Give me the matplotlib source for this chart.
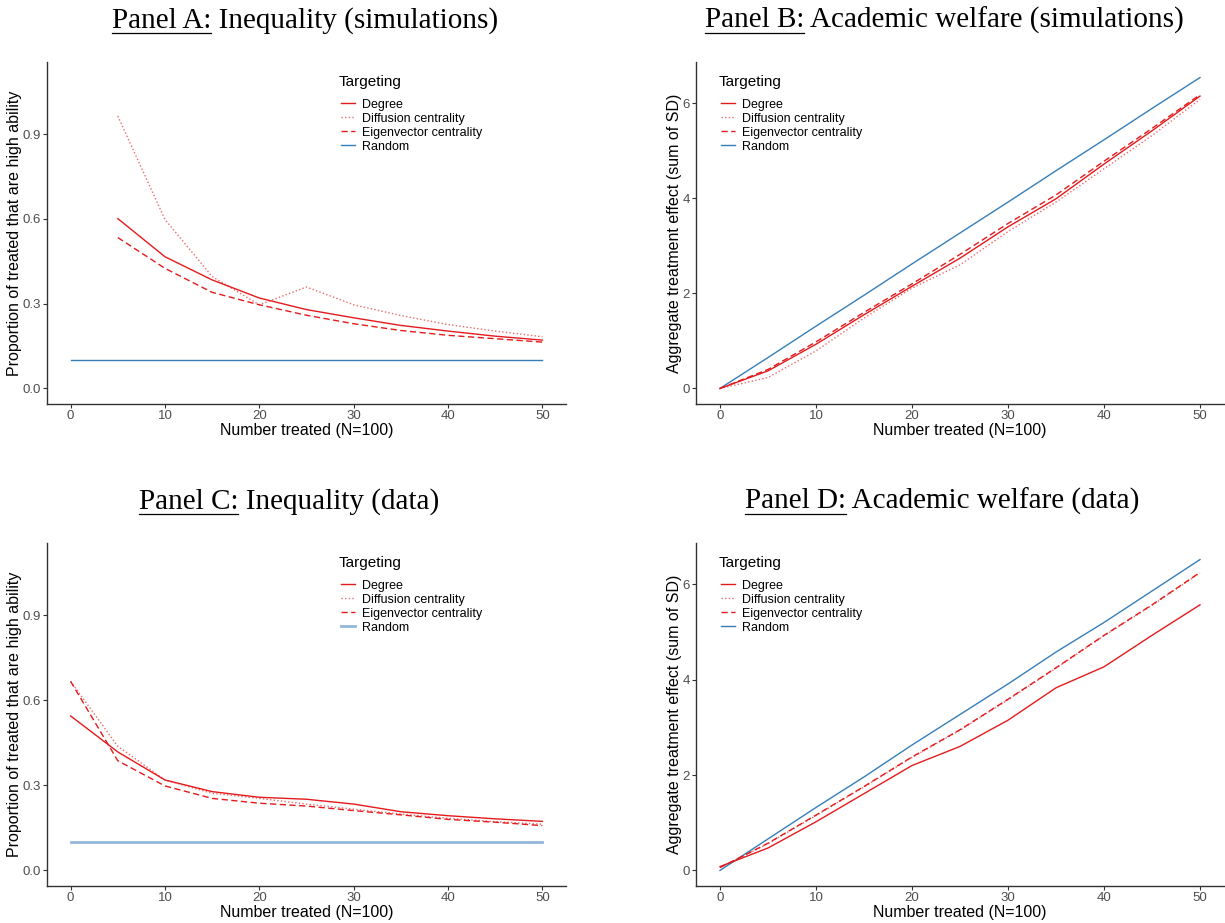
import matplotlib
matplotlib.use("Agg")
import matplotlib.pyplot as plt
from matplotlib.lines import Line2D

# ---------------- data ----------------
x_all = [0, 5, 10, 15, 20, 25, 30, 35, 40, 45, 50]
x_from5 = [5, 10, 15, 20, 25, 30, 35, 40, 45, 50]

# Panel A: inequality (simulations)
a_degree = [0.601, 0.466, 0.384, 0.320, 0.279, 0.250, 0.223, 0.203, 0.185, 0.171]
a_diffusion = [0.964, 0.598, 0.396, 0.296, 0.359, 0.296, 0.258, 0.226, 0.203, 0.183]
a_eigen = [0.534, 0.425, 0.340, 0.296, 0.259, 0.229, 0.205, 0.188, 0.176, 0.164]
a_random = [0.1] * 11

# Panel B: academic welfare (simulations)
b_degree = [0.0, 0.37, 0.93, 1.55, 2.15, 2.74, 3.40, 3.99, 4.72, 5.42, 6.15]
b_diffusion = [0.0, 0.23, 0.79, 1.48, 2.11, 2.60, 3.30, 3.92, 4.62, 5.32, 6.08]
b_eigen = [0.0, 0.40, 0.98, 1.60, 2.20, 2.82, 3.47, 4.07, 4.78, 5.47, 6.18]
b_random = [0.0, 0.65, 1.31, 1.96, 2.62, 3.27, 3.92, 4.58, 5.23, 5.89, 6.54]

# Panel C: inequality (data)
c_degree = [0.545, 0.418, 0.319, 0.278, 0.258, 0.251, 0.234, 0.207, 0.193, 0.182, 0.173]
c_diffusion = [0.667, 0.438, 0.319, 0.272, 0.254, 0.234, 0.216, 0.199, 0.184, 0.172, 0.163]
c_eigen = [0.667, 0.387, 0.298, 0.254, 0.237, 0.227, 0.211, 0.196, 0.180, 0.170, 0.158]
c_random = [0.1] * 11

# Panel D: academic welfare (data)
d_degree = [0.08, 0.47, 1.02, 1.61, 2.20, 2.60, 3.15, 3.83, 4.27, 4.93, 5.57]
d_diffusion = [0.06, 0.56, 1.15, 1.75, 2.37, 2.94, 3.58, 4.24, 4.92, 5.56, 6.24]
d_eigen = [0.06, 0.57, 1.16, 1.76, 2.38, 2.95, 3.59, 4.25, 4.93, 5.57, 6.25]
d_random = [0.0, 0.66, 1.32, 1.96, 2.63, 3.27, 3.91, 4.58, 5.20, 5.86, 6.52]

legend_title = "Targeting"
legend_labels = ["Degree", "Diffusion centrality", "Eigenvector centrality", "Random"]
titles = [("Panel A:", " Inequality (simulations)"),
          ("Panel B:", " Academic welfare (simulations)"),
          ("Panel C:", " Inequality (data)"),
          ("Panel D:", " Academic welfare (data)")]
xlabel = "Number treated (N=100)"
ylabel_ineq = "Proportion of treated that are high ability"
ylabel_welf = "Aggregate treatment effect (sum of SD)"

# ---------------- style ----------------
RED = "#E41A1C"
BLUE = "#377EB8"
SANS = ["Liberation Sans", "DejaVu Sans"]
SERIF = ["Liberation Serif", "DejaVu Serif"]
plt.rcParams["font.family"] = SANS

W, H = 1225, 923
fig = plt.figure(figsize=(W / 100, H / 100), dpi=100)


def px_axes(left, right, top, bottom):
    return fig.add_axes([left / W, 1 - bottom / H, (right - left) / W, (bottom - top) / H])


axA = px_axes(47, 566, 62, 404)
axB = px_axes(696, 1224, 62, 404)
axC = px_axes(47, 566, 543, 886)
axD = px_axes(696, 1224, 543, 886)

sty_deg = dict(color=RED, lw=1.0, ls="-")
sty_dif = dict(color=RED, lw=1.0, ls=(0, (1, 1.6)), alpha=0.65)
sty_eig = dict(color=RED, lw=1.0, ls=(0, (4.5, 2.5)))
sty_rnd = dict(color=BLUE, lw=1.0, ls="-")
sty_rnd_c = dict(color=BLUE, lw=2.0, ls="-", alpha=0.55)


def style_axes(ax, ylim, yticks, yticklabels):
    ax.set_xlim(-2.5, 52.5)
    ax.set_ylim(*ylim)
    ax.set_xticks([0, 10, 20, 30, 40, 50])
    ax.set_yticks(yticks)
    ax.set_yticklabels(yticklabels)
    for s in ["top", "right"]:
        ax.spines[s].set_visible(False)
    for s in ["left", "bottom"]:
        ax.spines[s].set_color("#333333")
        ax.spines[s].set_linewidth(1.0)
    ax.tick_params(axis="both", direction="out", length=2.6, width=0.8,
                   color="#333333", labelcolor="#4D4D4D", labelsize=9.5, pad=1.8)
    ax.set_facecolor("white")


ineq_lim = (-0.055, 1.155)
welf_lim = (-0.327, 6.867)
ineq_ticks = [0.0, 0.3, 0.6, 0.9]
ineq_tl = ["0.0", "0.3", "0.6", "0.9"]
welf_ticks = [0, 2, 4, 6]
welf_tl = ["0", "2", "4", "6"]

# Panel A
axA.plot(x_from5, a_degree, **sty_deg)
axA.plot(x_from5, a_diffusion, **sty_dif)
axA.plot(x_from5, a_eigen, **sty_eig)
axA.plot(x_all, a_random, **sty_rnd)
style_axes(axA, ineq_lim, ineq_ticks, ineq_tl)

# Panel B
axB.plot(x_all, b_random, **sty_rnd)
axB.plot(x_all, b_degree, **sty_deg)
axB.plot(x_all, b_diffusion, **sty_dif)
axB.plot(x_all, b_eigen, **sty_eig)
style_axes(axB, welf_lim, welf_ticks, welf_tl)

# Panel C
axC.plot(x_all, c_degree, **sty_deg)
axC.plot(x_all, c_diffusion, **sty_dif)
axC.plot(x_all, c_eigen, **sty_eig)
axC.plot(x_all, c_random, **sty_rnd_c)
style_axes(axC, ineq_lim, ineq_ticks, ineq_tl)

# Panel D
axD.plot(x_all, d_random, **sty_rnd)
axD.plot(x_all, d_degree, **sty_deg)
axD.plot(x_all, d_diffusion, **sty_dif)
axD.plot(x_all, d_eigen, **sty_eig)
style_axes(axD, welf_lim, welf_ticks, welf_tl)


def add_legend(ax, xt, yt, xl, yl, rnd_style):
    ax.text(xt, yt, legend_title, transform=ax.transAxes, ha="left", va="center",
            fontsize=11, color="black")
    handles = [Line2D([], [], **sty_deg), Line2D([], [], **sty_dif),
               Line2D([], [], **sty_eig), Line2D([], [], **rnd_style)]
    ax.legend(handles, legend_labels, loc="upper left",
              bbox_to_anchor=(xl, yl), frameon=False, fontsize=9,
              borderpad=0, borderaxespad=0, handlelength=1.1,
              handletextpad=0.55, labelspacing=0.16)


add_legend(axA, 0.5626, 0.9415, 0.5665, 0.893, sty_rnd)
add_legend(axB, 0.0436, 0.9415, 0.0473, 0.893, sty_rnd)
add_legend(axC, 0.5626, 0.9417, 0.5665, 0.8935, sty_rnd_c)
add_legend(axD, 0.0436, 0.9417, 0.0473, 0.8935, sty_rnd)

# axis labels
for ax, ylab, ycx in [(axA, ylabel_ineq, 15), (axB, ylabel_welf, 675),
                      (axC, ylabel_ineq, 15), (axD, ylabel_welf, 675)]:
    bb = ax.get_position()
    xc = (bb.x0 + bb.x1) / 2
    yc = (bb.y0 + bb.y1) / 2
    fig.text(xc, bb.y0 - 27 / H, xlabel, ha="center", va="center", fontsize=11.5,
             color="black")
    fig.text(ycx / W, yc, ylab, ha="center", va="center", rotation=90,
             fontsize=11.5, color="black")

# titles with underlined prefix
renderer = fig.canvas.get_renderer()
TFS = 21
title_pos = [(305, 28), (944, 28), (289, 509), (942, 509)]
for (pre, rest), (cx, base) in zip(titles, title_pos):
    full = fig.text(cx / W, 1 - base / H, pre + rest, ha="center", va="baseline",
                    fontsize=TFS, family=SERIF, color="black")
    bb = full.get_window_extent(renderer)
    meas = fig.text(0, 0, pre, ha="left", va="baseline", fontsize=TFS, family=SERIF)
    wpre = meas.get_window_extent(renderer).width
    meas.remove()
    x0 = bb.x0
    yline = H - (base + 5)
    fig.add_artist(Line2D([x0 / W, (x0 + wpre) / W], [yline / H, yline / H],
                          color="black", lw=0.9, transform=fig.transFigure))

fig.savefig("out.png", dpi=100, facecolor="white")
